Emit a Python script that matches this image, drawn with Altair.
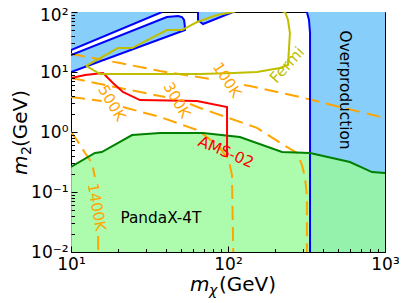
import altair as alt
import pandas as pd

FONT = "DejaVu Sans"
W, H = 314, 240
XDOM = [10, 1000]
YDOM = [0.01, 100]

BLUE_FILL = "#87CEFA"
GREEN_FILL = "#98FB98"
ORANGE = "#FFA500"
OLIVE = "#BFBF00"

# ---------------- data (GeV) ----------------
# light-blue excluded bands, upper left
bandA_x = [10.0, 38.0]
bandA_y = [23.3, 100.0]

bandB_x = [10.0, 40.8, 48.1, 50.9, 52.5, 53.0, 53.2]
bandB_hi = [19.2, 82.5, 85.8, 82.5, 73.6, 60.7, 50.1]
bandB_lo = [10.0, 38.8, 45.4, 48.0, 49.4, 49.9, 50.1]

notch_x = [64.4, 69.3, 107.6]
notch_lo = [73.6, 63.1, 100.0]

# overproduction region (right)
over_y = [100.0, 73.6, 44.7, 0.01]
over_x = [318.0, 328.0, 333.0, 333.0]

# PandaX-4T boundary
pandax_x = [10, 14.2, 15.7, 24.5, 36.9, 69.3, 119, 221, 333, 598, 826, 1000]
pandax_y = [0.261, 0.447, 0.464, 0.891, 0.962, 0.962, 0.825, 0.464, 0.447, 0.316, 0.215, 0.207]

# AMS-02
ams_x = [10, 12.3, 16.0, 18.5, 21.4, 27.5, 63.5, 98.6, 98.6]
ams_y = [7.94, 8.91, 9.63, 6.56, 4.64, 3.41, 3.29, 2.61, 0.383]

# Fermi
fermi_x = [12.5, 19.9, 24.5, 40.8, 50.9, 63.5, 85.1, 107.6, 155, 231, 241, 248, 241, 214, 153, 108, 66.4, 15.3, 12.5]
fermi_y = [12.6, 25.1, 25.1, 50.1, 50.1, 68.1, 89.1, 100, 131, 100, 73.6, 44.7, 13.1, 11.7, 10.0, 9.6, 9.26, 9.26, 12.6]

# temperature contours (two pieces each, broken at the label)
t100_a_x = [10, 20.5, 36.9, 76.8]
t100_a_y = [19.95, 14.1, 10.4, 7.64]
t100_b_x = [126.5, 138, 288, 516, 1000]
t100_b_y = [6.07, 5.84, 3.83, 2.61, 1.71]

t300_a_x = [10, 20.5, 39.7]
t300_a_y = [7.94, 5.41, 3.83]
t300_b_x = [57.3, 66.4, 153, 231, 275, 296, 309, 318, 318]
t300_b_y = [2.93, 2.51, 1.17, 0.585, 0.447, 0.282, 0.178, 0.089, 0.01]

t500_a_x = [10, 15.7]
t500_a_y = [3.83, 3.29]
t500_b_x = [21.4, 36.9, 63.5, 73.5, 88.9, 101, 106, 108]
t500_b_y = [2.61, 1.78, 1.08, 0.825, 0.541, 0.342, 0.192, 0.01]

t1400_a_x = [10, 10.9, 12.3, 13.6, 14.2]
t1400_a_y = [1.0, 0.736, 0.447, 0.304, 0.178]
t1400_b_x = [14.9, 14.9]
t1400_b_y = [0.0185, 0.01]

# labels
clab_text = ["100K", "300K", "500K", "1400K"]
clab_x = [98.6, 47.3, 18.2, 14.6]
clab_y = [7.36, 3.41, 3.04, 0.056]
clab_angle = [57, 60, 59, 80]

x_ticks = [10, 100, 1000]
x_tick_labels = ["10¹", "10²", "10³"]
y_ticks = [0.01, 0.1, 1, 10, 100]
y_tick_labels = ["10⁻²", "10⁻¹", "10⁰", "10¹", "10²"]
minor_mult = [1, 2, 3, 4, 5, 6, 7, 8, 9]

# ---------------- helpers ----------------
xs = alt.Scale(type="log", domain=XDOM, nice=False)
ys = alt.Scale(type="log", domain=YDOM, nice=False)


def X(f="x"):
    return alt.X(f"{f}:Q", scale=xs, axis=None)


def Y(f="y"):
    return alt.Y(f"{f}:Q", scale=ys, axis=None)


def lines_df(pieces):
    rows = []
    for pid, (xx, yy) in enumerate(pieces):
        for i, (a, b) in enumerate(zip(xx, yy)):
            rows.append({"x": a, "y": b, "i": i, "pid": pid})
    return pd.DataFrame(rows)


def label_expr(vals, labs):
    e = "''"
    for v, l in zip(vals, labs):
        e = f"(abs(datum.value - {v}) < {v}*1e-6 ? '{l}' : {e})"
    return e


major_test = "abs(log(datum.value)/LN10 - round(log(datum.value)/LN10)) < 0.001"

x_all = [m * d for d in [10, 100] for m in minor_mult] + [1000]
y_all = [round(m * d, 6) for d in [0.01, 0.1, 1, 10] for m in minor_mult] + [100]

# ---------------- layers ----------------
dfA = pd.DataFrame({"x": bandA_x, "y": bandA_y, "y2": [100.0] * len(bandA_x)})
areaA = alt.Chart(dfA).mark_area(color=BLUE_FILL, clip=True).encode(
    x=alt.X("x:Q", scale=xs, axis=alt.Axis(
        orient="bottom", values=x_ticks, labelExpr=label_expr(x_ticks, x_tick_labels),
        ticks=False, tickSize=0, domain=False, grid=False, title=None,
        labelFont=FONT, labelFontSize=17, labelColor="black", labelPadding=4,
        labelFlush=False, labelOverlap=False)),
    y=alt.Y("y:Q", scale=ys, axis=alt.Axis(
        orient="left", values=y_ticks, labelExpr=label_expr(y_ticks, y_tick_labels),
        ticks=False, tickSize=0, domain=False, grid=False, title=None,
        labelFont=FONT, labelFontSize=17, labelColor="black", labelPadding=3,
        labelFlush=False, labelOverlap=False,
        labelOffset={"condition": {"test": "datum.value > 50", "value": 3}, "value": 0})),
    y2="y2:Q",
)

tick_axes = alt.Chart(dfA).mark_point(opacity=0).encode(
    x=alt.X("x:Q", scale=xs, axis=alt.Axis(
        orient="top", offset=-H, values=x_all, labels=False, domain=False, grid=False,
        title=None, tickColor="black", tickWidth=1, zindex=1,
        tickSize={"condition": {"test": major_test, "value": 6}, "value": 3.5})),
    y=alt.Y("y:Q", scale=ys, axis=alt.Axis(
        orient="right", offset=-W, values=y_all, labels=False, domain=False, grid=False,
        title=None, tickColor="black", tickWidth=1, zindex=1,
        tickSize={"condition": {"test": major_test, "value": 6}, "value": 3.5})),
)

dfB = pd.DataFrame({"x": bandB_x, "y": bandB_hi, "y2": bandB_lo})
areaB = alt.Chart(dfB).mark_area(color=BLUE_FILL, clip=True).encode(x=X(), y=Y(), y2="y2:Q")

dfN = pd.DataFrame({"x": notch_x, "y": notch_lo, "y2": [100.0] * len(notch_x)})
areaN = alt.Chart(dfN).mark_area(color=BLUE_FILL, clip=True).encode(x=X(), y=Y(), y2="y2:Q")

dfO = pd.DataFrame({"y": over_y, "x": over_x, "x2": [1000.0] * len(over_x)})
areaO = alt.Chart(dfO).mark_area(color=BLUE_FILL, orient="horizontal", clip=True).encode(
    x=X(), x2="x2:Q", y=Y())

dfG = pd.DataFrame({"x": pandax_x, "y": pandax_y, "y2": [0.01] * len(pandax_x)})
areaG = alt.Chart(dfG).mark_area(color=GREEN_FILL, opacity=0.8, clip=True).encode(
    x=X(), y=Y(), y2="y2:Q")

dfT = lines_df([(t100_a_x, t100_a_y), (t100_b_x, t100_b_y),
                (t300_a_x, t300_a_y), (t300_b_x, t300_b_y),
                (t500_a_x, t500_a_y), (t500_b_x, t500_b_y),
                (t1400_a_x, t1400_a_y), (t1400_b_x, t1400_b_y)])
temps = alt.Chart(dfT).mark_line(color=ORANGE, strokeWidth=2, strokeDash=[14, 7], clip=True).encode(
    x=X(), y=Y(), detail="pid:N", order="i:Q")

dfBL = lines_df([
    (bandA_x, bandA_y),
    (bandB_x + [10.0], bandB_hi + [10.0]),
    ([notch_x[0]] + notch_x, [100.0] + notch_lo),
    (over_x, over_y),
])
blues = alt.Chart(dfBL).mark_line(color="blue", strokeWidth=2, clip=True).encode(
    x=X(), y=Y(), detail="pid:N", order="i:Q")

dfPG = lines_df([(pandax_x, pandax_y)])
gline = alt.Chart(dfPG).mark_line(color="green", strokeWidth=2, clip=True).encode(
    x=X(), y=Y(), order="i:Q")

dfR = lines_df([(ams_x, ams_y)])
rline = alt.Chart(dfR).mark_line(color="red", strokeWidth=2, clip=True).encode(
    x=X(), y=Y(), order="i:Q")

dfF = lines_df([(fermi_x, fermi_y)])
fline = alt.Chart(dfF).mark_line(color=OLIVE, strokeWidth=2, clip=True).encode(
    x=X(), y=Y(), order="i:Q")

dfCL = pd.DataFrame({"t": clab_text, "x": clab_x, "y": clab_y, "a": clab_angle})
clabs = alt.Chart(dfCL).mark_text(color=ORANGE, font=FONT, fontSize=15, align="center",
                                  baseline="middle").encode(
    x=X(), y=Y(), text="t:N", angle=alt.Angle("a:Q", scale=None))

ann_text = ["Fermi", "AMS-02", "Overproduction", "PandaX-4T"]
ann_x = [237.7, 97.0, 556.0, 37.4]
ann_y = [13.1, 0.464, 5.0, 0.0369]
ann_angle = [312, 23, 90, 0]
ann_color = [OLIVE, "red", "black", "black"]
dfAN = pd.DataFrame({"t": ann_text, "x": ann_x, "y": ann_y, "a": ann_angle, "c": ann_color})
anns = alt.Chart(dfAN).mark_text(font=FONT, fontSize=15.3, align="center", baseline="middle").encode(
    x=X(), y=Y(), text="t:N", angle=alt.Angle("a:Q", scale=None), color=alt.Color("c:N", scale=None))


# axis titles built from pieces (italic m, subscript)
def piece(txt, px, py, size, style="normal", angle=0):
    return alt.Chart(pd.DataFrame({"t": [txt]})).mark_text(
        font=FONT, fontSize=size, fontStyle=style, align="left", baseline="alphabetic",
        color="black", angle=angle).encode(x=alt.value(px), y=alt.value(py), text="t:N")


xt1 = piece("m", 119, 279, 20, "italic")
xt2 = piece("χ", 138, 283, 14, "italic")
xt3 = piece("(GeV)", 148, 279, 20)
yt1 = piece("m", -44, 163, 20, "italic", 270)
yt2 = piece("2", -40, 143, 14, "normal", 270)
yt3 = piece("(GeV)", -44, 135, 20, "normal", 270)

chart = alt.layer(
    areaA, areaB, areaN, areaO, areaG, temps, blues, gline, rline, fline,
    clabs, anns, xt1, xt2, xt3, yt1, yt2, yt3, tick_axes,
).resolve_axis(x="independent", y="independent").properties(
    width=W, height=H, autosize=alt.AutoSizeParams(type="none"),
    padding={"left": 63, "top": 4, "right": 14, "bottom": 50},
).configure_view(stroke="black", strokeWidth=1)

chart.save("out.html", embed_options={"renderer": "svg", "actions": False})
